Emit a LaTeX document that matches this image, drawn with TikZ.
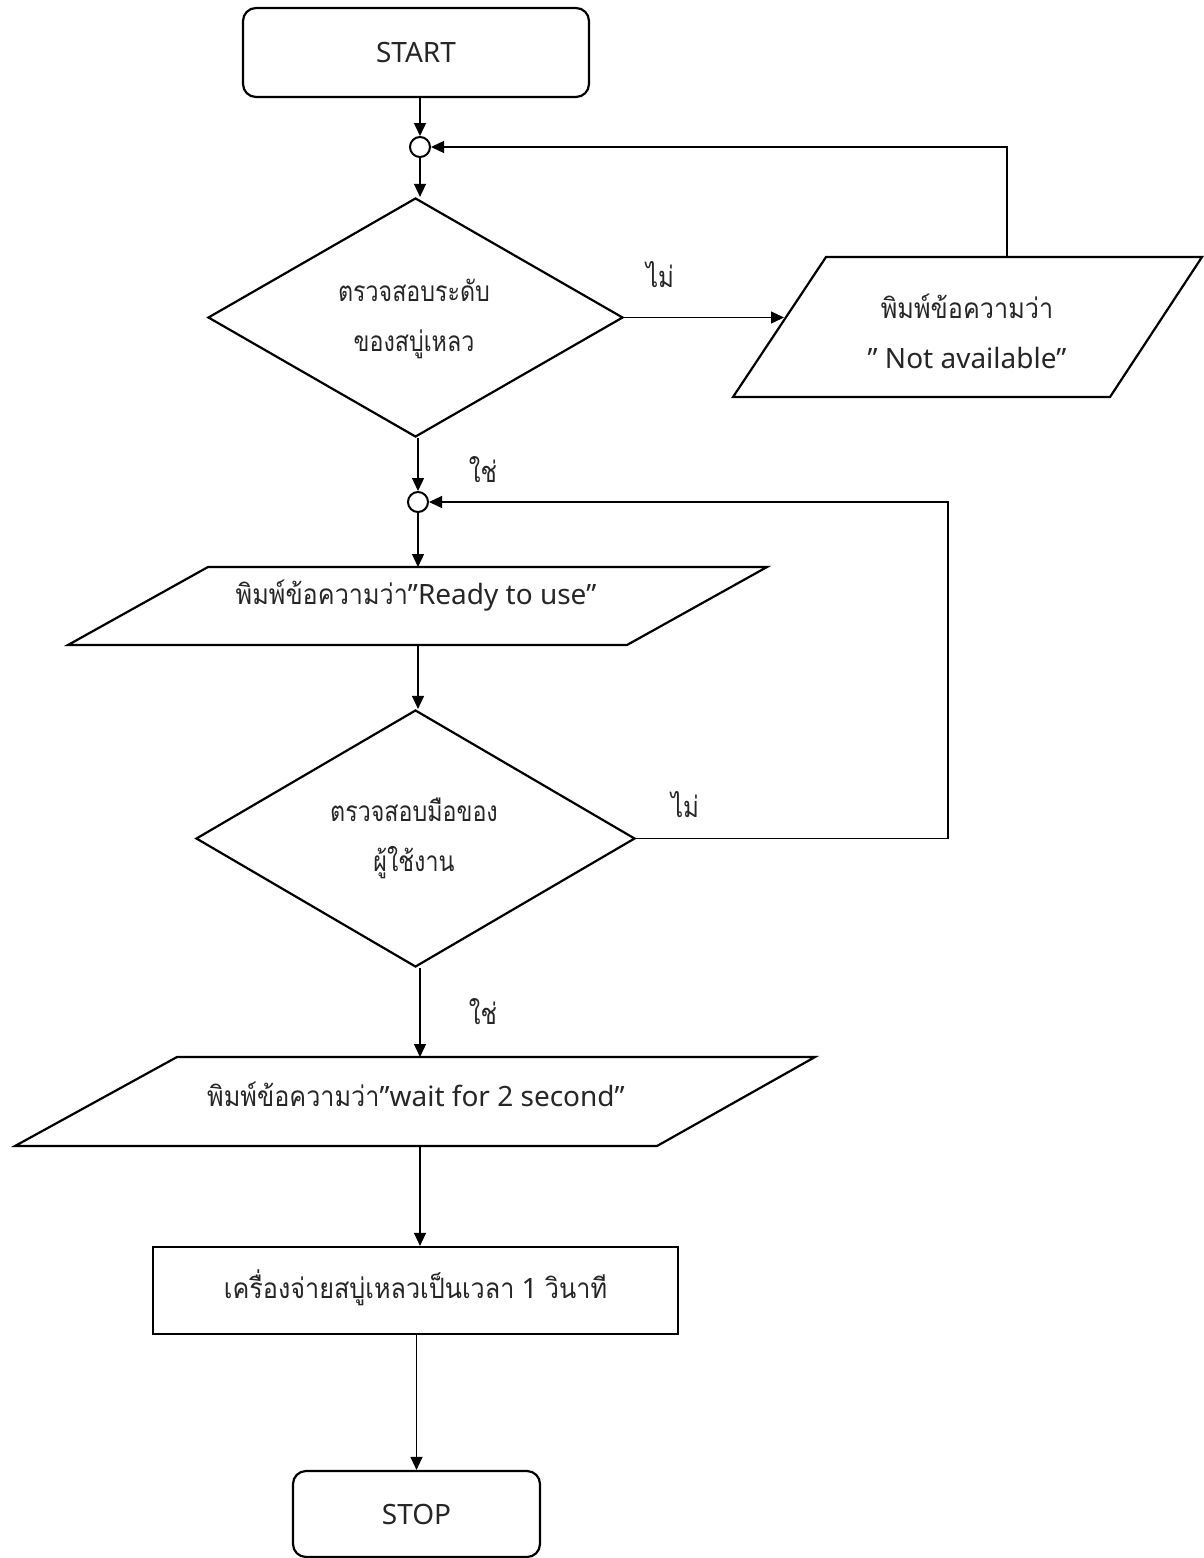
\documentclass[tikz,border=0pt]{standalone}
\usepackage{fontspec}
\setmainfont{Noto Sans}
\newfontfamily\thai[Script=Thai,FakeStretch=0.9]{Loma}
\newfontfamily\thaid[Script=Thai,FakeStretch=0.83]{Loma}
\usetikzlibrary{shapes.geometric,arrows.meta,calc}
\begin{document}
\begin{tikzpicture}[x=0.5pt,y=-0.5pt,
  every node/.style={font=\fontsize{14}{25}\selectfont, inner sep=0pt, align=center, text=black!85},
  box/.style={draw=black, line width=1.1pt, line join=miter},
  term/.style={box, rectangle, rounded corners=6.5pt},
  dec/.style={box, diamond},
  dtext/.style={font=\thaid\fontsize{14}{25}\selectfont},
  junc/.style={draw=black, circle, line width=1pt, minimum size=10pt},
  conn/.style={line width=0.65pt, -{Triangle[length=6.5pt,width=6pt]}},
  lbl/.style={font=\thaid\fontsize{14.5}{16}\selectfont}
]
\useasboundingbox (0,0) rectangle (1204,1558);

% terminals, junctions, decisions, process
\node[term, minimum width=173pt, minimum height=44.5pt] (start) at (416,52.5) {START};
\node[junc] (j1) at (420,147) {};
\node[dec, minimum width=207.5pt, minimum height=119.5pt] (d1) at (415.5,317.5) {};
\node[dtext] (t1) at (414,319) {ตรวจสอบระดับ\\ของสบู่เหลว};
\node[junc] (j2) at (418,502) {};
\node[dec, minimum width=219.5pt, minimum height=128.5pt] (d2) at (415.5,838.5) {};
\node[dtext] (t2) at (414,838) {ตรวจสอบมือของ\\ผู้ใช้งาน};
\node[box, rectangle, minimum width=262.5pt, minimum height=43.5pt] (r1) at (415.5,1290.5) {};
\node (t3) at (415.5,1288) {{\thai เครื่องจ่ายสบู่เหลวเป็นเวลา} 1 {\thai วินาที}};
\node[term, minimum width=123.5pt, minimum height=43pt] (stop) at (416.5,1514) {STOP};

% input/output parallelograms
\draw[box] (826,257) -- (1202,257) -- (1110,397) -- (733,397) -- cycle;
\node (p1) at (967,331) {{\thai พิมพ์ข้อความว่า}\\” Not available”};
\draw[box] (208,567) -- (767,567) -- (627,645) -- (68,645) -- cycle;
\node (p2) at (416,596) {{\thai พิมพ์ข้อความว่า}”Ready to use”};
\draw[box] (177,1057) -- (815,1057) -- (657,1146) -- (15,1146) -- cycle;
\node (p3) at (416,1094) {{\thai พิมพ์ข้อความว่า}”wait for 2 second”};

\coordinate (p1in) at (784,317.5);
\coordinate (p1top) at (1007,257);
\coordinate (p2top) at (418,567);
\coordinate (p2bot) at (418,645);
\coordinate (p3top) at (420,1057);
\coordinate (p3bot) at (420,1146);
\coordinate (c2) at (948,838.5);

% labels
\node[lbl] (n1) at (660,275) {ไม่};
\node[lbl] (y1) at (483,470) {ใช่};
\node[lbl] (n2) at (685,805) {ไม่};
\node[lbl] (y2) at (483,1012) {ใช่};

% connectors
\draw[conn] (start.south -| j1) -- (j1.north);
\draw[conn] (j1.south) -- (j1.south |- d1.north);
\draw[conn] (d1.east) -- (p1in);
\draw[conn] (p1top) |- (j1.east);
\draw[conn] (j2.north |- d1.south) -- (j2.north);
\draw[conn] (j2.south) -- (p2top);
\draw[conn] (p2bot) -- (p2bot |- d2.north);
\draw[conn] (d2.east) -- (c2) |- (j2.east);
\draw[conn] (p3top |- d2.south) -- (p3top);
\draw[conn] (p3bot) -- (p3bot |- r1.north);
\draw[conn] (r1.south -| stop.north) -- (stop.north);
\end{tikzpicture}
\end{document}
